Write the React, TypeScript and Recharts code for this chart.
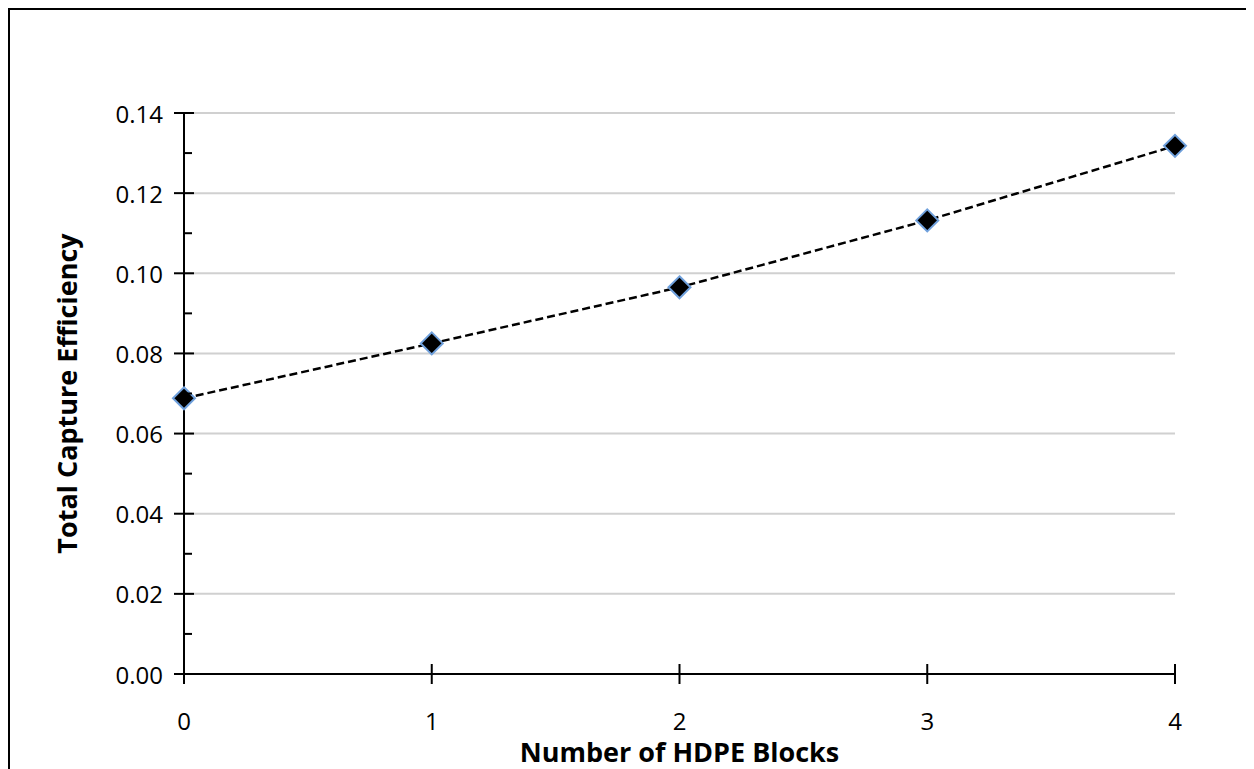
import React from "react";
import { LineChart, Line, XAxis, YAxis, CartesianGrid } from "recharts";

const blocks = [0, 1, 2, 3, 4];
const efficiency = [0.0688, 0.0825, 0.0965, 0.1132, 0.1318];
const yTickValues = [0, 0.01, 0.02, 0.03, 0.04, 0.05, 0.06, 0.07, 0.08, 0.09, 0.1, 0.11, 0.12, 0.13, 0.14];
const yMajorValues = [0, 0.02, 0.04, 0.06, 0.08, 0.1, 0.12, 0.14];
const gridValues = [0.02, 0.04, 0.06, 0.08, 0.1, 0.12, 0.14];
const xTitle = "Number of HDPE Blocks";
const yTitle = "Total Capture Efficiency";

const data = blocks.map((b, i) => ({ x: b, y: efficiency[i] }));

const FONT = "'Open Sans', 'Noto Sans', sans-serif";

const isMajor = (v: number) => yMajorValues.some((m) => Math.abs(m - v) < 1e-9);

const YTick = (props: any) => {
  const { x, y, payload } = props;
  const v = payload.value as number;
  if (isMajor(v)) {
    return (
      <g>
        <line x1={x - 10} x2={x + 10} y1={y} y2={y} stroke="#000" strokeWidth={2} />
        <text x={x - 21} y={y} textAnchor="end" dominantBaseline="central" fontSize={24} fill="#000" fontFamily={FONT}>
          {v.toFixed(2)}
        </text>
      </g>
    );
  }
  return <line x1={x} x2={x + 8} y1={y} y2={y} stroke="#000" strokeWidth={2} />;
};

const XTick = (props: any) => {
  const { x, y, payload } = props;
  return (
    <g>
      <line x1={x} x2={x} y1={y - 10} y2={y + 10} stroke="#000" strokeWidth={2} />
      <text x={x} y={y + 46} textAnchor="middle" dominantBaseline="central" fontSize={24} fill="#000" fontFamily={FONT}>
        {payload.value}
      </text>
    </g>
  );
};

const Diamond = (props: any) => {
  const { cx, cy, index } = props;
  if (cx == null || cy == null) return <g key={index} />;
  const r = 11;
  return (
    <polygon
      key={index}
      points={`${cx},${cy - r} ${cx + r},${cy} ${cx},${cy + r} ${cx - r},${cy}`}
      fill="#000"
      stroke="#6fa0dc"
      strokeWidth={2}
    />
  );
};

export default function App() {
  return (
    <div
      style={{
        position: "relative",
        width: 1246,
        height: 761,
        fontFamily: FONT,
        background: "#fff",
      }}
    >
      <style>{`html,body{overflow:hidden;}`}</style>
      <svg width={1246} height={761} style={{ position: "absolute", left: 0, top: 0 }}>
        <line x1={0} x2={1246} y1={1} y2={1} stroke="#000" strokeWidth={2} />
        <line x1={1} x2={1} y1={0} y2={761} stroke="#000" strokeWidth={2} />
      </svg>
      <div style={{ position: "absolute", left: 2, top: 2 }}>
        <LineChart width={1236} height={759} data={data} margin={{ top: 103, right: 71, left: 114, bottom: 65 }}>
          <CartesianGrid vertical={false} stroke="#d0d0d0" strokeWidth={2} horizontalValues={gridValues} />
          <XAxis
            dataKey="x"
            type="number"
            domain={[0, 4]}
            ticks={blocks}
            interval={0}
            height={30}
            tickSize={0}
            tickMargin={0}
            tick={<XTick />}
            axisLine={{ stroke: "#000", strokeWidth: 2 }}
            tickLine={false}
            label={{
              content: (p: any) => {
                const vb = p.viewBox;
                return (
                  <text
                    x={vb.x + vb.width / 2}
                    y={vb.y + 77}
                    textAnchor="middle"
                    dominantBaseline="central"
                    fontSize={27}
                    fontWeight="bold"
                    fill="#000"
                    fontFamily={FONT}
                  >
                    {xTitle}
                  </text>
                );
              },
            }}
          />
          <YAxis
            type="number"
            domain={[0, 0.14]}
            ticks={yTickValues}
            interval={0}
            width={60}
            tickSize={0}
            tickMargin={0}
            tick={<YTick />}
            axisLine={{ stroke: "#000", strokeWidth: 2 }}
            tickLine={false}
            label={{
              content: (p: any) => {
                const vb = p.viewBox;
                const cx = vb.x - 58;
                const cy = vb.y + vb.height / 2;
                return (
                  <text
                    x={cx}
                    y={cy}
                    transform={`rotate(-90, ${cx}, ${cy})`}
                    textAnchor="middle"
                    dominantBaseline="central"
                    fontSize={27}
                    fontWeight="bold"
                    fill="#000"
                    fontFamily={FONT}
                  >
                    {yTitle}
                  </text>
                );
              },
            }}
          />
          <Line
            dataKey="y"
            stroke="#000"
            strokeWidth={2.5}
            strokeDasharray="8 4"
            dot={Diamond}
            activeDot={false}
            isAnimationActive={false}
          />
        </LineChart>
      </div>
    </div>
  );
}
